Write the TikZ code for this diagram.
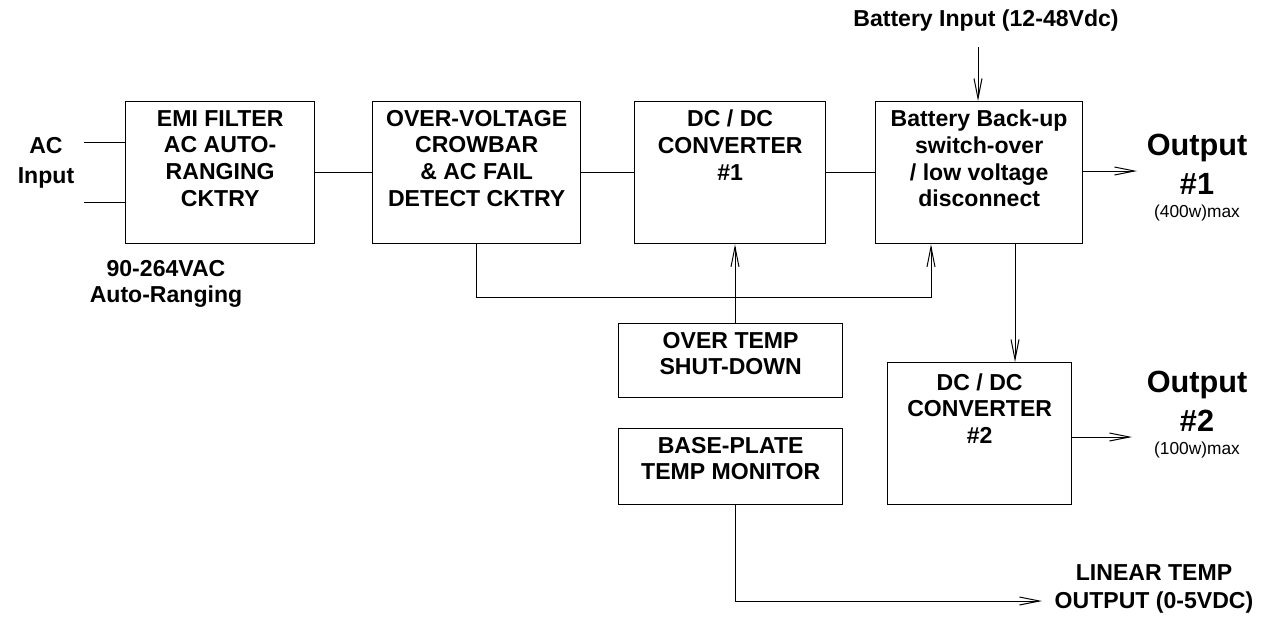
\documentclass[tikz,border=0pt]{standalone}
\usepackage{fontspec}
\setmainfont{Liberation Sans}
\usetikzlibrary{arrows.meta}

\tikzset{
  blk/.style={draw, line width=1pt, anchor=north west, inner sep=0pt},
  blktxt/.style={anchor=north, align=center, inner sep=0pt,
    font=\fontsize{17.3}{20}\selectfont\bfseries},
  lbl/.style={align=center, inner sep=0pt,
    font=\fontsize{17.3}{20}\selectfont\bfseries},
  outlbl/.style={align=center, inner sep=0pt,
    font=\fontsize{23}{29}\selectfont\bfseries},
  maxlbl/.style={inner sep=0pt, font=\fontsize{13}{14}\selectfont},
  sig/.style={line width=0.75pt},
  arr/.style={sig, -{Straight Barb[length=15pt,width=6pt]}},
}

\begin{document}
\begin{tikzpicture}[x=0.75pt,y=-0.75pt]
  \useasboundingbox (0,0) rectangle (1264,629);

  % main power path (left to right)
  \node[blk, minimum width=141.75pt, minimum height=106.5pt] (emi) at (125,101) {};
  \node[blk, minimum width=156pt,    minimum height=106.5pt] (ovp) at (372,101) {};
  \node[blk, minimum width=143.25pt, minimum height=106.5pt] (dc1) at (634,101) {};
  \node[blk, minimum width=155.25pt, minimum height=106.5pt] (bat) at (875,101) {};

  \node[blktxt] (emitxt) at ([yshift=-6.7pt]emi.north) {EMI FILTER\\AC AUTO-\\RANGING\\CKTRY};
  \node[blktxt] (ovptxt) at ([yshift=-6.7pt]ovp.north) {OVER-VOLTAGE\\CROWBAR\\\& AC FAIL\\DETECT CKTRY};
  \node[blktxt] (dc1txt) at ([yshift=-6.7pt]dc1.north) {DC / DC\\CONVERTER\\\#1};
  \node[blktxt] (battxt) at ([yshift=-6.7pt]bat.north) {Battery Back-up\\switch-over\\/ low voltage\\disconnect};

  % temperature blocks and second converter
  \node[blk, minimum width=168pt, minimum height=55.5pt]  (otp) at (618,323) {};
  \node[blk, minimum width=168pt, minimum height=57pt]    (bpm) at (618,428) {};
  \node[blk, minimum width=138pt, minimum height=106.5pt] (dc2) at (887,362) {};

  \node[blktxt] (otptxt) at ([yshift=-6.5pt]otp.north) {OVER TEMP\\SHUT-DOWN};
  \node[blktxt] (bpmtxt) at ([yshift=-6.5pt]bpm.north) {BASE-PLATE\\TEMP MONITOR};
  \node[blktxt] (dc2txt) at ([yshift=-8.5pt]dc2.north) {DC / DC\\CONVERTER\\\#2};

  % free ends of the connectors
  \coordinate (acin1) at (84,142);
  \coordinate (acin2) at (84,202);
  \coordinate (batin) at (978,47);
  \coordinate (out1)  at (1137,171);
  \coordinate (out2)  at (1132,437);
  \coordinate (fail)  at (931,297);
  \coordinate (tap)   at (1015,0);
  \coordinate (tx)    at (735,0);
  \coordinate (tout)  at (1042,601);

  % AC input
  \draw[sig] (acin1) -- (acin1 -| emi.west);
  \draw[sig] (acin2) -- (acin2 -| emi.west);

  % power chain
  \draw[sig] (emi.east) -- (ovp.west);
  \draw[sig] (ovp.east) -- (dc1.west);
  \draw[sig] (dc1.east) -- (bat.west);
  \draw[arr] (batin) -- (batin |- bat.north);
  \draw[arr] (bat.east |- out1) -- (out1);
  \draw[arr] (tap |- bat.south) -- (tap |- dc2.north);
  \draw[arr] (dc2.east |- out2) -- (out2);

  % fail and temperature signals
  \draw[arr] (ovp.south) |- (fail) -- (fail |- bat.south);
  \draw[arr] (tx |- otp.north) -- (tx |- dc1.south);
  \draw[arr] (tx |- bpm.south) |- (tout);

  % labels
  \node[lbl, font=\fontsize{17.3}{22.5}\selectfont\bfseries] (aclbl) at (46,163) {AC\\Input};
  \node[lbl] (rnglbl) at (166,284) {90-264VAC\\Auto-Ranging};
  \node[lbl] (batlbl) at (986,21) {Battery Input (12-48Vdc)};
  \node[outlbl] (o1lbl) at (1197,164) {Output\\\#1};
  \node[maxlbl] (o1max) at (1197,213) {(400w)max};
  \node[outlbl] (o2lbl) at (1197,401) {Output\\\#2};
  \node[maxlbl] (o2max) at (1197,450) {(100w)max};
  \node[lbl, font=\fontsize{17.3}{21}\selectfont\bfseries] (tlbl) at (1154,589) {LINEAR TEMP\\OUTPUT (0-5VDC)};
\end{tikzpicture}
\end{document}
